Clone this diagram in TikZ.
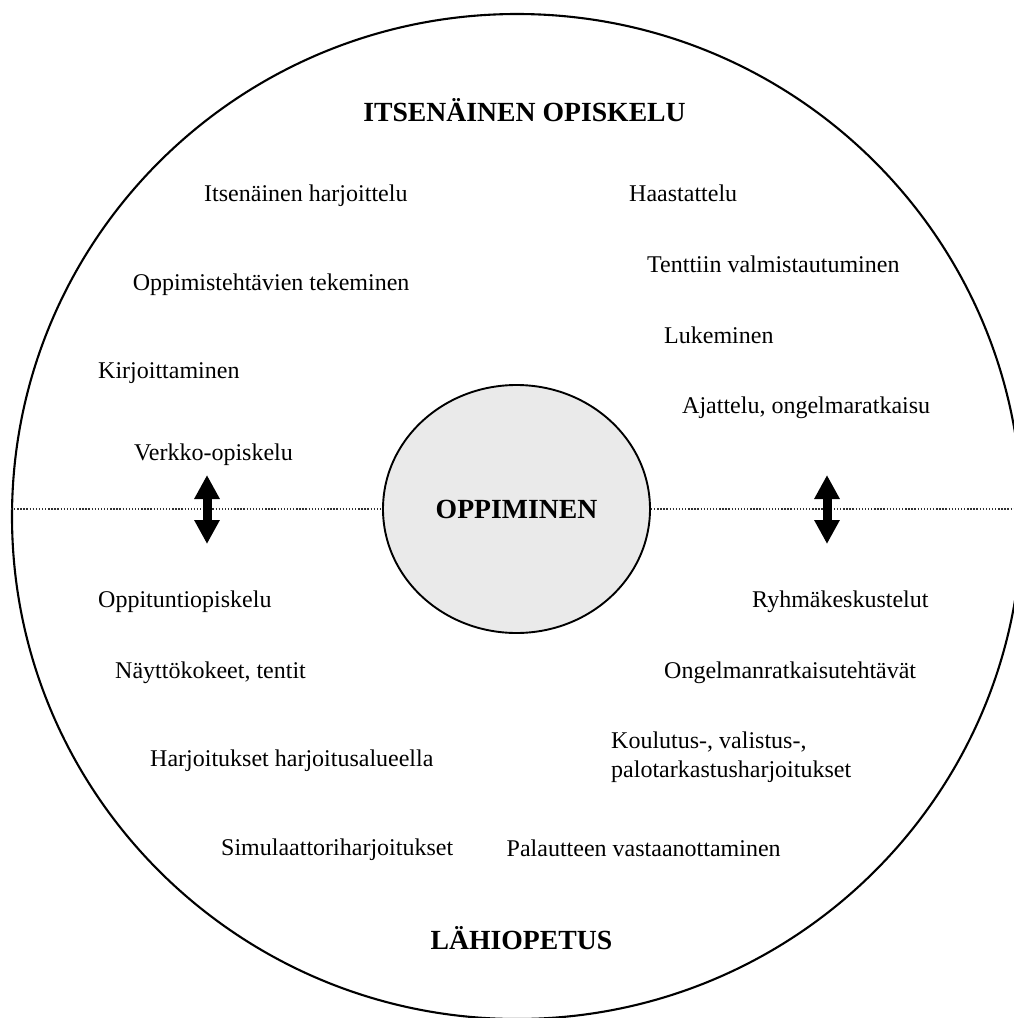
\documentclass[tikz,border=0pt]{standalone}
\usepackage{fontspec}
\setmainfont{Liberation Serif}
\usetikzlibrary{shapes.geometric,arrows.meta}
\definecolor{oppfill}{RGB}{234,234,234}
\definecolor{dotgray}{RGB}{50,50,50}
\begin{document}
\begin{tikzpicture}[x=1pt,y=-1pt,
  lbl/.style={anchor=west,inner sep=0pt,font=\fontsize{24}{29}\selectfont,text height=16pt,text depth=5pt},
  lbltwo/.style={anchor=west,inner sep=0pt,font=\fontsize{24}{29}\selectfont,align=left},
  ttl/.style={anchor=center,inner sep=0pt,font=\fontsize{27.7}{32}\selectfont\bfseries,text height=18pt,text depth=0pt},
  dotline/.style={draw=dotgray,line width=1.2pt,dash pattern=on 1.4pt off 1.7pt},
  dblarrow/.style={line width=9pt,{Triangle[width=24pt,length=24pt]}-{Triangle[width=24pt,length=24pt]}}]
\useasboundingbox (0,0) rectangle (1014,1018);
% outer circle
\node[draw,line width=2.1pt,ellipse,minimum width=1010pt,minimum height=1005pt,inner sep=0pt] (big) at (517,516.5) {};
% inner circle
\node[draw,line width=1.9pt,ellipse,fill=oppfill,minimum width=267pt,minimum height=248pt,inner sep=0pt,
      font=\fontsize{27.7}{32}\selectfont\bfseries] (opp) at (516.5,509) {OPPIMINEN};
% dotted divider
\draw[dotline] (big.west |- opp.center) -- (opp.west);
\draw[dotline] (opp.east) -- (big.east |- opp.center);
% arrows
\coordinate (la1) at (207,475);
\coordinate (la2) at (207,544);
\coordinate (ra1) at (827,475);
\coordinate (ra2) at (827,544);
\draw[dblarrow] (la1) -- (la2);
\draw[dblarrow] (ra1) -- (ra2);
% titles
\node[ttl] (t1) at (524.5,112) {ITSENÄINEN OPISKELU};
\node[ttl] (t2) at (521.4,940) {LÄHIOPETUS};
% labels
\node[lbl] (a1) at (204,196) {Itsenäinen harjoittelu};
\node[lbl] (a2) at (629,196) {Haastattelu};
\node[lbl] (a3) at (132.6,285) {Oppimistehtävien tekeminen};
\node[lbl] (a4) at (647,267) {Tenttiin valmistautuminen};
\node[lbl] (a5) at (664,338) {Lukeminen};
\node[lbl] (a6) at (98,373) {Kirjoittaminen};
\node[lbl] (a7) at (682,408) {Ajattelu, ongelmaratkaisu};
\node[lbl] (a8) at (134,455) {Verkko-opiskelu};
\node[lbl] (b1) at (98,602) {Oppituntiopiskelu};
\node[lbl] (b2) at (752,602) {Ryhmäkeskustelut};
\node[lbl] (b3) at (115,673) {Näyttökokeet, tentit};
\node[lbl] (b4) at (664,673) {Ongelmanratkaisutehtävät};
\node[lbl] (b5) at (150,761) {Harjoitukset harjoitusalueella};
\node[lbltwo] (b6) at (611,757) {Koulutus-, valistus-,\\palotarkastusharjoitukset};
\node[lbl] (b7) at (221,850) {Simulaattoriharjoitukset};
\node[lbl] (b8) at (506.5,851) {Palautteen vastaanottaminen};
\end{tikzpicture}
\end{document}
